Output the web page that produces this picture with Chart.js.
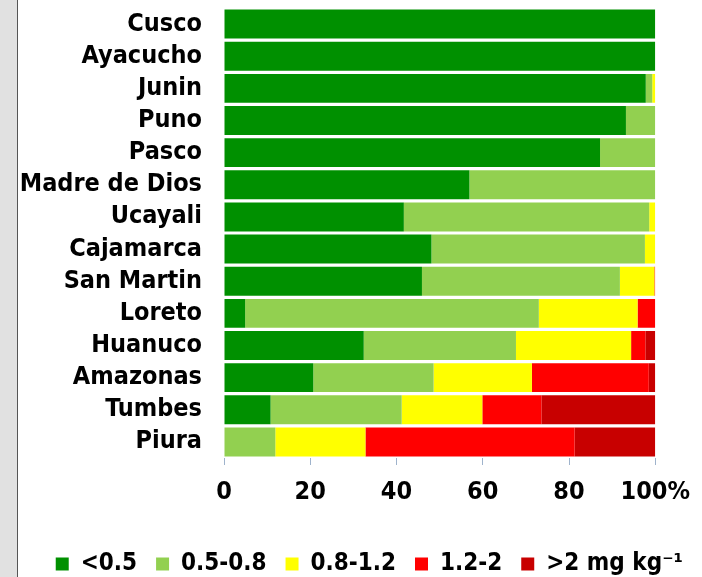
<!DOCTYPE html>
<html>
<head>
<meta charset="utf-8">
<script src="https://cdn.jsdelivr.net/npm/chart.js@4"></script>
<style>
  html, body { margin: 0; padding: 0; background: #ffffff; }
  #wrap { position: relative; width: 702px; height: 577px; overflow: hidden; }
  #strip { position: absolute; left: 0; top: 0; width: 17px; height: 577px; background: #e1e1e1; border-right: 1px solid #555; }
  #c { position: absolute; left: 0; top: 0; }
</style>
</head>
<body>
<div id="wrap">
  <div id="strip"></div>
  <canvas id="c" width="702" height="577"></canvas>
</div>
<script>
const regions = ["Cusco", "Ayacucho", "Junin", "Puno", "Pasco", "Madre de Dios", "Ucayali",
  "Cajamarca", "San Martin", "Loreto", "Huanuco", "Amazonas", "Tumbes", "Piura"];

const seriesNames = ["<0.5", "0.5-0.8", "0.8-1.2", "1.2-2", ">2 mg kg\u207B\u00B9"];

const lt05   = [100, 100, 97.8, 93.2, 87.2, 56.9, 41.7, 48.1, 45.9, 4.9, 32.4, 20.7, 10.8, 0];
const r05_08 = [0, 0, 1.5, 6.8, 12.8, 43.1, 56.9, 49.5, 45.9, 68.1, 35.3, 27.9, 30.4, 11.9];
const r08_12 = [0, 0, 0.7, 0, 0, 0, 1.4, 2.4, 8.0, 22.9, 26.7, 22.8, 18.7, 20.9];
const r12_2  = [0, 0, 0, 0, 0, 0, 0, 0, 0.2, 4.1, 3.3, 27.1, 13.7, 48.5];
const gt2    = [0, 0, 0, 0, 0, 0, 0, 0, 0, 0, 2.3, 1.5, 26.4, 18.7];

const xTicks = [0, 20, 40, 60, 80, 100];

const colors = ["#009000", "#92d050", "#ffff00", "#ff0000", "#c80000"];
const seriesValues = [lt05, r05_08, r08_12, r12_2, gt2];

const FONT = "'DejaVu Sans Condensed', 'DejaVu Sans', sans-serif";

new Chart(document.getElementById('c'), {
  type: 'bar',
  data: {
    labels: regions,
    datasets: seriesValues.map((vals, i) => ({
      label: seriesNames[i],
      data: vals,
      backgroundColor: colors[i],
      borderWidth: 0,
      categoryPercentage: 1.0,
      barPercentage: 0.9
    }))
  },
  options: {
    indexAxis: 'y',
    responsive: false,
    devicePixelRatio: 1,
    animation: false,
    layout: { padding: { top: 8, right: 0, left: 0, bottom: -9 } },
    plugins: {
      tooltip: { enabled: false },
      legend: {
        position: 'bottom',
        align: 'end',
        labels: {
          color: '#000',
          boxWidth: 13,
          boxHeight: 13,
          padding: 19,
          font: { family: FONT, size: 24, weight: 'bold' }
        }
      }
    },
    scales: {
      x: {
        stacked: true,
        min: 0,
        max: 100,
        afterBuildTicks: (s) => { s.ticks = xTicks.map(v => ({ value: v })); },
        afterFit: (s) => { s.height = 75; },
        border: { display: false },
        grid: { display: true, drawOnChartArea: false, drawTicks: true, tickLength: 7, color: '#9fb3cc' },
        ticks: {
          color: '#000',
          padding: 12,
          maxRotation: 0,
          font: { family: FONT, size: 25, weight: 'bold' },
          callback: (v) => v === 100 ? '100%' : String(v)
        }
      },
      y: {
        stacked: true,
        afterFit: (s) => { s.width = 224; },
        border: { display: false },
        grid: { display: true, drawOnChartArea: false, drawTicks: true, tickLength: 22, color: 'rgba(0,0,0,0)' },
        ticks: {
          color: '#000',
          padding: 0,
          autoSkip: false,
          font: { family: FONT, size: 25, weight: 'bold', lineHeight: 0.5 }
        }
      },
      yRight: {
        type: 'category',
        axis: 'y',
        position: 'right',
        display: true,
        afterFit: (s) => { s.width = 46; },
        border: { display: false },
        grid: { display: false, drawTicks: false },
        ticks: { display: false }
      }
    }
  }
});
</script>
</body>
</html>
